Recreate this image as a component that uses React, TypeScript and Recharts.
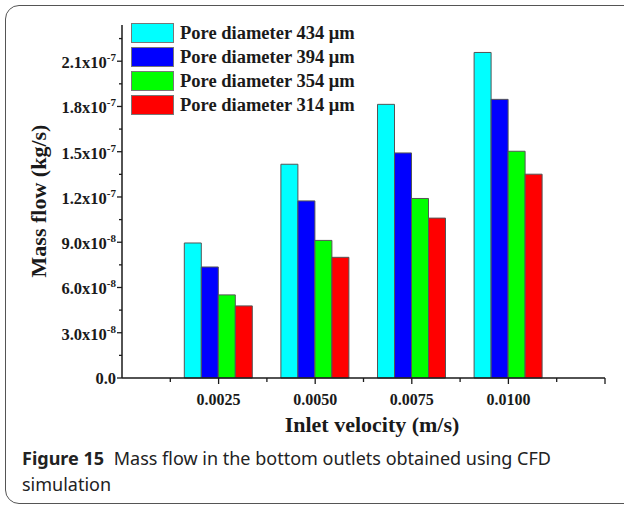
import React from 'react';
import { BarChart, Bar, XAxis, YAxis, Legend, Label } from 'recharts';

// inlet velocity (m/s)
const velocities = [0.0025, 0.005, 0.0075, 0.01];
// mass flow (kg/s) per pore diameter
const pore434 = [8.95e-8, 1.417e-7, 1.814e-7, 2.158e-7];
const pore394 = [7.36e-8, 1.174e-7, 1.492e-7, 1.847e-7];
const pore354 = [5.51e-8, 9.12e-8, 1.19e-7, 1.503e-7];
const pore314 = [4.78e-8, 8.0e-8, 1.06e-7, 1.351e-7];

const seriesKeys = ['p434', 'p394', 'p354', 'p314'];
const seriesNames = ['Pore diameter 434 μm', 'Pore diameter 394 μm', 'Pore diameter 354 μm', 'Pore diameter 314 μm'];
const seriesColors = ['#00FFFF', '#0000FF', '#00FF00', '#FF0000'];

const xMajorTicks = [0.0025, 0.005, 0.0075, 0.01, 0.0125];
const xMinorTicks = [0.00125, 0.00375, 0.00625, 0.00875, 0.01125];
const yMajorTicks = [0, 3e-8, 6e-8, 9e-8, 1.2e-7, 1.5e-7, 1.8e-7, 2.1e-7];
const yMinorTicks = [1.5e-8, 4.5e-8, 7.5e-8, 1.05e-7, 1.35e-7, 1.65e-7, 1.95e-7, 2.25e-7];

const data = velocities.map((v, i) => ({
  v,
  p434: pore434[i],
  p394: pore394[i],
  p354: pore354[i],
  p314: pore314[i],
}));

const serif = '"Liberation Serif", "Times New Roman", serif';
const ink = '#1a1a1a';
const near = (list: number[], v: number) => list.some((t) => Math.abs(t - v) < 1e-12);

const XTick = (props: any) => {
  const { x, y, payload } = props;
  const v = payload.value;
  const major = near(xMajorTicks, v);
  return (
    <g>
      <line x1={x} x2={x} y1={y} y2={y + (major ? 6 : 4)} stroke={ink} strokeWidth={1.3} />
      {near(velocities, v) && (
        <text x={x} y={y + 27} textAnchor="middle" fontFamily={serif} fontWeight="bold" fontSize={16} fill={ink}>
          {v.toFixed(4)}
        </text>
      )}
    </g>
  );
};

const YTick = (props: any) => {
  const { x, y, payload } = props;
  const v = payload.value;
  const major = near(yMajorTicks, v);
  let label: React.ReactNode = null;
  if (major) {
    if (v === 0) {
      label = '0.0';
    } else {
      const exp = Math.floor(Math.log10(v) + 1e-9);
      const mant = (v / Math.pow(10, exp)).toFixed(1);
      label = (
        <>
          <tspan>{mant + 'x10'}</tspan>
          <tspan dy={-7} fontSize={11}>{String(exp)}</tspan>
        </>
      );
    }
  }
  return (
    <g>
      <line x1={x - (major ? 5 : 3)} x2={x} y1={y} y2={y} stroke={ink} strokeWidth={1.3} />
      {major && (
        <text x={x - 6} y={y + (v === 0 ? 6 : 7)} textAnchor="end" fontFamily={serif} fontWeight="bold" fontSize={16.5} fill={ink}>
          {label}
        </text>
      )}
    </g>
  );
};

const LegendBox = () => (
  <div>
    {seriesNames.map((name, i) => (
      <div key={name} style={{ display: 'flex', alignItems: 'center', height: 24 }}>
        <div style={{ width: 43, height: 20, background: seriesColors[i], border: '1px solid #777', boxSizing: 'border-box' }} />
        <span style={{ marginLeft: 6, fontFamily: serif, fontWeight: 'bold', fontSize: 18.5, color: ink, whiteSpace: 'nowrap' }}>{name}</span>
      </div>
    ))}
  </div>
);

export default function App() {
  return (
    <div style={{ position: 'absolute', left: 0, top: 0, width: 624, height: 507, overflow: 'hidden', background: '#fff' }}>
      <div
        style={{
          position: 'absolute',
          left: 5,
          top: 5,
          width: 640,
          height: 499,
          border: '1.5px solid #555',
          borderRadius: 14,
          boxSizing: 'border-box',
        }}
      />
      <div style={{ position: 'absolute', left: 0, top: 0 }}>
        <BarChart width={624} height={440} data={data} margin={{ top: 25, right: 19, left: 0, bottom: 0 }} barGap={0}>
          <XAxis
            type="number"
            dataKey="v"
            domain={[0, 0.0125]}
            ticks={[...xMinorTicks, ...xMajorTicks].sort((a, b) => a - b)}
            interval={0}
            tick={<XTick />}
            tickLine={false}
            tickSize={0}
            tickMargin={0}
            height={62}
            axisLine={{ stroke: ink, strokeWidth: 1.5 }}
          >
            <Label
              content={() => (
                <text x={372} y={432} textAnchor="middle" fontFamily={serif} fontWeight="bold" fontSize={22} fill={ink}>
                  Inlet velocity (m/s)
                </text>
              )}
            />
          </XAxis>
          <YAxis
            type="number"
            domain={[0, 2.34e-7]}
            ticks={[...yMinorTicks, ...yMajorTicks].sort((a, b) => a - b)}
            interval={0}
            tick={<YTick />}
            tickLine={false}
            tickSize={0}
            tickMargin={0}
            width={122}
            axisLine={{ stroke: ink, strokeWidth: 1.5 }}
          >
            <Label
              content={() => (
                <text
                  x={38}
                  y={201}
                  transform="rotate(-90 38 201)"
                  textAnchor="middle"
                  dominantBaseline="central"
                  fontFamily={serif}
                  fontWeight="bold"
                  fontSize={22}
                  fill={ink}
                >
                  Mass flow (kg/s)
                </text>
              )}
            />
          </YAxis>
          <Legend
            layout="vertical"
            align="center"
            verticalAlign="middle"
            content={<LegendBox />}
            wrapperStyle={{ top: 21, left: 131, width: 'auto' }}
          />
          {seriesKeys.map((k, i) => (
            <Bar
              key={k}
              dataKey={k}
              name={seriesNames[i]}
              fill={seriesColors[i]}
              stroke="#555"
              strokeWidth={1}
              barSize={17}
              isAnimationActive={false}
            />
          ))}
        </BarChart>
      </div>
      <div
        style={{
          position: 'absolute',
          left: 22,
          top: 445,
          fontFamily: '"Noto Sans", sans-serif',
          fontSize: 18,
          lineHeight: '26px',
          color: '#222',
          whiteSpace: 'nowrap',
        }}
      >
        <span style={{ fontWeight: 'bold', marginRight: 5 }}>Figure 15</span> Mass flow in the bottom outlets obtained using CFD
        <br />
        simulation
      </div>
    </div>
  );
}
